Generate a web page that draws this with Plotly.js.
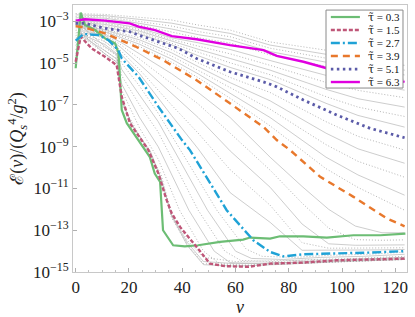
<!DOCTYPE html>
<html>
<head>
<meta charset="utf-8">
<script src="https://cdn.plot.ly/plotly-3.0.1.min.js"></script>
<style>html,body{margin:0;padding:0;background:#fff;}#chart{width:415px;height:317px;}</style>
</head>
<body>
<div id="chart"></div>
<script>
// ---- Data (ν values and log10 of E(ν)/(Qs^4/g^2)) ----
const tauValues = ["0.3", "1.5", "2.7", "3.9", "5.1", "6.3"];

const nu_03  = [0, 1.9, 3.5, 7.3, 11, 14.8, 16.1, 17.3, 19.2, 23.6, 27.8, 29.7, 31.7, 32.8, 36.6, 41, 46, 54.2, 62.9, 65.5, 73, 76.7, 85.5, 94.3, 104.3, 114.4, 123.8];
const logE_03 = [-5.24, -2.58, -3.17, -3.41, -3.81, -4.05, -4.51, -7.24, -7.87, -8.68, -9.48, -10.28, -10.68, -13.0, -13.72, -13.77, -13.72, -13.56, -13.45, -13.35, -13.4, -13.29, -13.29, -13.35, -13.24, -13.24, -13.16];

const nu_15  = [0, 1.9, 6, 11, 15.4, 17.3, 20.4, 27.3, 31.1, 34, 36.1, 39.2, 45.4, 50.4, 56, 65, 73, 85, 98, 110, 123.5];
const logE_15 = [-4.93, -3.73, -4.29, -4.69, -5.09, -6.61, -7.88, -9.16, -10.3, -11.5, -12.2, -12.84, -13.8, -14.6, -14.72, -14.75, -14.6, -14.55, -14.44, -14.4, -14.36];

const nu_27  = [0, 2.9, 8.5, 12.3, 16, 17.3, 23.6, 31.1, 39.9, 42.9, 56.7, 66.7, 73, 78, 85.5, 98, 110, 123.5];
const logE_27 = [-3.92, -3.6, -3.65, -3.89, -4.37, -4.77, -5.65, -7.09, -8.68, -9.16, -12.04, -13.48, -14.04, -14.25, -14.15, -14.12, -14.07, -14.0];

const nu_39  = [0, 2.9, 11, 17, 22.5, 32.8, 38.6, 45.4, 57.9, 70.5, 75.5, 80.5, 91.8, 104.3, 116.9, 123.5];
const logE_39 = [-3.22, -3.28, -3.57, -3.9, -4.2, -4.85, -5.3, -5.81, -6.92, -8.05, -8.68, -9.16, -10.44, -11.4, -12.44, -12.81];

const nu_51  = [0, 3.5, 11, 20.3, 23.6, 32.8, 38.6, 45.4, 57.9, 70.5, 75.5, 85.5, 98, 110.6, 123.5];
const logE_51 = [-3.09, -3.09, -3.33, -3.49, -3.65, -4.05, -4.29, -4.77, -5.41, -5.89, -6.13, -6.76, -7.48, -8.12, -8.57];

const nu_63  = [0, 3.5, 11, 20.3, 23.6, 29.8, 36.1, 45.4, 57.9, 70.5, 75.5, 85.5, 94.3, 98, 110.6, 123.5];
const logE_63 = [-2.96, -2.89, -2.96, -3.09, -3.25, -3.41, -3.7, -3.85, -4.13, -4.37, -4.65, -4.93, -5.24, -5.35, -5.57, -5.89];

// ---- intermediate times (thin gray curves) ----
const nuG6 = [0, 11, 24, 36, 46, 58, 73, 94, 106, 123.5];
const g6e = [-2.62, -2.66, -2.8, -2.93, -3.17, -3.41, -3.98, -4.37, -4.6, -4.85];
const g6d = [-2.68, -2.72, -2.9, -3.08, -3.32, -3.57, -4.13, -4.58, -4.82, -5.1];
const g6c = [-2.75, -2.78, -3.0, -3.22, -3.48, -3.73, -4.28, -4.78, -5.03, -5.33];
const g6b = [-2.82, -2.84, -3.09, -3.36, -3.63, -3.88, -4.44, -4.97, -5.24, -5.56];
const g6a = [-2.89, -2.9, -3.17, -3.5, -3.78, -4.03, -4.6, -5.15, -5.45, -5.78];

const nuG5 = [0, 11, 24, 36, 46, 58, 73, 94, 106, 123.5];
const g5a = [-2.98, -3.02, -3.32, -3.78, -4.02, -4.34, -4.87, -5.58, -5.9, -6.29];
const g5b = [-3.0, -3.08, -3.39, -3.86, -4.18, -4.55, -5.1, -5.92, -6.3, -6.65];
const g5c = [-3.03, -3.14, -3.46, -3.95, -4.33, -4.77, -5.33, -6.25, -6.7, -7.1];
const g5d = [-3.05, -3.21, -3.53, -4.04, -4.49, -4.98, -5.55, -6.6, -7.1, -7.55];
const g5e = [-3.07, -3.27, -3.6, -4.12, -4.64, -5.2, -5.78, -6.92, -7.5, -8.06];

const nuG4 = [0, 11, 24, 36, 46, 58, 73, 94, 106, 123.5];
const g4a = [-3.11, -3.37, -3.78, -4.35, -4.98, -5.68, -6.4, -7.8, -8.5, -9.16];
const g4b = [-3.13, -3.41, -3.88, -4.5, -5.16, -5.93, -6.8, -8.35, -9.1, -9.79];
const g4c = [-3.15, -3.45, -3.98, -4.65, -5.34, -6.18, -7.2, -8.9, -9.7, -10.46];
const g4d = [-3.17, -3.49, -4.09, -4.8, -5.51, -6.43, -7.6, -9.5, -10.35, -11.32];
const g4e = [-3.2, -3.53, -4.2, -4.95, -5.69, -6.68, -8.0, -10.05, -10.95, -12.04];

const nuG3 = [0, 3, 11, 17, 24, 36, 46, 58, 73, 85, 95, 105, 115, 123.5];
const g3a = [-3.3, -3.32, -3.6, -4.0, -4.55, -5.5, -6.4, -7.6, -9.5, -10.9, -12.0, -12.8, -13.12, -13.12];
const g3b = [-3.42, -3.38, -3.63, -4.12, -4.8, -5.95, -6.95, -8.35, -10.12, -11.7, -12.9, -13.45, -13.48, -13.46];
const g3c = [-3.55, -3.44, -3.67, -4.25, -5.05, -6.45, -7.6, -9.2, -10.94, -12.7, -13.65, -13.72, -13.72, -13.7];
const g3d = [-3.68, -3.5, -3.72, -4.4, -5.3, -7.0, -8.35, -10.1, -11.8, -13.6, -13.86, -13.86, -13.85, -13.84];
const g3e = [-3.8, -3.55, -3.76, -4.55, -5.5, -7.5, -9.1, -11.2, -12.62, -13.96, -13.96, -13.95, -13.94, -13.92];

const nuG2a = [0, 2.2, 11, 15.5, 17.3, 24, 31, 39, 48, 54, 65, 80, 100, 123.5];
const g2a = [-4.75, -3.72, -4.55, -4.95, -6.3, -8.1, -9.6, -12.04, -14.0, -14.6, -14.68, -14.6, -14.5, -14.4];
const nuG2b = [0, 2.3, 11, 15.5, 17.3, 24, 31, 42.5, 52, 58, 70, 85, 105, 123.5];
const g2b = [-4.55, -3.7, -4.4, -4.8, -6.0, -7.6, -9.0, -12.04, -14.0, -14.55, -14.6, -14.5, -14.4, -14.3];
const nuG2c = [0, 2.5, 11, 15.5, 17.3, 24, 31, 46, 56, 62, 75, 90, 105, 123.5];
const g2c = [-4.35, -3.67, -4.25, -4.65, -5.6, -7.0, -8.3, -12.04, -14.0, -14.45, -14.5, -14.4, -14.35, -14.25];
const nuG2d = [0, 2.6, 11, 15.5, 17.3, 24, 31, 49.5, 60, 66, 78, 92, 108, 123.5];
const g2d = [-4.15, -3.64, -4.1, -4.55, -5.3, -6.5, -7.8, -12.04, -14.0, -14.35, -14.4, -14.3, -14.25, -14.15];
const nuG2e = [0, 2.8, 11, 15.5, 17.3, 24, 31, 53, 64, 70, 82, 95, 110, 123.5];
const g2e = [-4.0, -3.62, -3.95, -4.45, -5.0, -6.1, -7.4, -12.04, -13.9, -14.25, -14.3, -14.2, -14.15, -14.05];

const nuG1 = [0, 2, 11, 15.5, 17.2, 21, 28, 32, 36, 42, 48, 60, 80, 100, 123.5];
const g1a = [-5.1, -2.95, -4.0, -4.3, -6.9, -7.8, -9.4, -10.3, -12.2, -13.5, -14.3, -14.5, -14.45, -14.4, -14.3];
const g1b = [-5.05, -3.2, -4.2, -4.6, -6.8, -7.9, -9.3, -10.5, -12.3, -13.6, -14.5, -14.6, -14.55, -14.45, -14.35];
const g1c = [-5.0, -3.4, -4.4, -4.8, -6.7, -8.0, -9.25, -10.6, -12.4, -13.7, -14.6, -14.7, -14.6, -14.5, -14.4];
const g1d = [-4.98, -3.55, -4.55, -4.95, -6.65, -7.95, -9.2, -10.5, -12.3, -13.75, -14.65, -14.72, -14.62, -14.5, -14.4];

const yTickExp = [-15, -13, -11, -9, -7, -5, -3];
const xTickVals = [0, 20, 40, 60, 80, 100, 120];

// ---- build traces ----
const toE = a => a.map(v => Math.pow(10, v));

const grayList = [
  [nuG1, g1a], [nuG1, g1b], [nuG1, g1c], [nuG1, g1d],
  [nuG2a, g2a], [nuG2b, g2b], [nuG2c, g2c], [nuG2d, g2d], [nuG2e, g2e],
  [nuG3, g3e], [nuG3, g3d], [nuG3, g3c], [nuG3, g3b], [nuG3, g3a],
  [nuG4, g4e], [nuG4, g4d], [nuG4, g4c], [nuG4, g4b], [nuG4, g4a],
  [nuG5, g5e], [nuG5, g5d], [nuG5, g5c], [nuG5, g5b], [nuG5, g5a],
  [nuG6, g6a], [nuG6, g6b], [nuG6, g6c], [nuG6, g6d], [nuG6, g6e]
];

const traces = [];
grayList.forEach((s, i) => {
  const dotted = i % 2 === 0;
  traces.push({
    x: s[0], y: toE(s[1]), type: 'scatter', mode: 'lines', showlegend: false, hoverinfo: 'skip',
    line: dotted ? {color: 'rgba(120,120,120,0.7)', width: 0.8, dash: '1px,2px'}
                 : {color: 'rgba(185,185,185,0.9)', width: 0.8}
  });
});

const mainStyles = [
  {color: '#6cbd74', width: 2.2, dash: 'solid'},
  {color: '#bf5678', width: 2.4, dash: '4px,2px'},
  {color: '#1fa2d6', width: 2.4, dash: '9px,3px,2px,3px'},
  {color: '#e8782c', width: 2.4, dash: '7px,5px'},
  {color: '#5b5ba8', width: 2.8, dash: '2.5px,3.5px'},
  {color: '#e000e0', width: 2.4, dash: 'solid'}
];
const mainSeries = [[nu_03, logE_03], [nu_15, logE_15], [nu_27, logE_27], [nu_39, logE_39], [nu_51, logE_51], [nu_63, logE_63]];
const tauName = v => '<span style="font-family:DejaVu Serif">τ̃</span> = ' + v;
mainSeries.forEach((s, i) => {
  traces.push({
    x: s[0], y: toE(s[1]), type: 'scatter', mode: 'lines', name: 'τ̃ = ' + tauValues[i],
    showlegend: false, line: mainStyles[i]
  });
});

// ---- legend box (drawn in paper coordinates) ----
const serif = 'Liberation Serif, Times New Roman, serif';
const L = {x0: 0.7575, x1: 0.988, y0: 0.689, y1: 0.981, keyX0: 0.772, keyX1: 0.859, textX: 0.876, rowTop: 0.955, rowStep: 0.0487};
const shapes = [{type: 'rect', xref: 'paper', yref: 'paper', x0: L.x0, x1: L.x1, y0: L.y0, y1: L.y1,
  fillcolor: '#ffffff', line: {color: '#8a8a8a', width: 1}, layer: 'above'}];
const annotations = [];
tauValues.forEach((v, i) => {
  const yy = L.rowTop - i * L.rowStep;
  shapes.push({type: 'line', xref: 'paper', yref: 'paper', x0: L.keyX0, x1: L.keyX1, y0: yy, y1: yy,
    line: {color: mainStyles[i].color, width: mainStyles[i].width, dash: mainStyles[i].dash}, layer: 'above'});
  annotations.push({xref: 'paper', yref: 'paper', x: L.textX, y: yy, xanchor: 'left', yanchor: 'middle',
    text: tauName(v), showarrow: false, font: {family: serif, size: 11, color: '#111'}});
});

const layout = {
  width: 415, height: 317,
  margin: {l: 73, r: 8, t: 5, b: 45},
  paper_bgcolor: '#fff', plot_bgcolor: '#fff',
  showlegend: false,
  shapes: shapes, annotations: annotations,
  xaxis: {
    range: [-1, 124.4], tickvals: xTickVals,
    ticks: 'inside', ticklen: 4, tickcolor: '#b0b0b0',
    minor: {dtick: 5, ticks: 'inside', ticklen: 2, tickcolor: '#c0c0c0'},
    showline: true, mirror: true, linecolor: '#c8c8c8', linewidth: 1,
    showgrid: false, zeroline: false,
    tickfont: {family: serif, size: 17, color: '#222'},
    title: {text: '<i>ν</i>', font: {family: serif, size: 18, color: '#222'}, standoff: 6}
  },
  yaxis: {
    type: 'log', range: [-15, -2.21],
    tickvals: yTickExp.map(e => Math.pow(10, e)),
    ticktext: yTickExp.map(e => '10<sup>−' + Math.abs(e) + '</sup>'),
    ticks: 'inside', ticklen: 4, tickcolor: '#b0b0b0',
    showline: true, mirror: true, linecolor: '#c8c8c8', linewidth: 1,
    showgrid: false, zeroline: false,
    tickfont: {family: serif, size: 17, color: '#222'},
    title: {text: '<span style="font-family:DejaVu Serif">ℰ</span>(<i>ν</i>)/(<i>Q</i><sub><i>s</i></sub><sup>4</sup>/<i>g</i><sup>2</sup>)', font: {family: serif, size: 18, color: '#222'}, standoff: 4}
  }
};

Plotly.newPlot('chart', traces, layout, {staticPlot: true, displayModeBar: false});
</script>
</body>
</html>
